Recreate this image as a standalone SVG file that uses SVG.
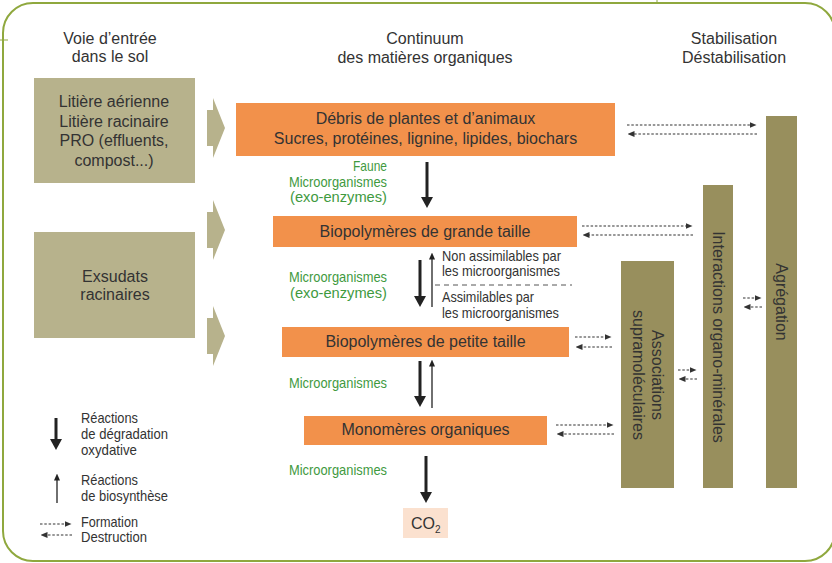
<svg xmlns="http://www.w3.org/2000/svg" width="832" height="563" viewBox="0 0 832 563">
<style>
.t{font-family:"Liberation Sans",Arial,sans-serif;font-size:16px;fill:#333;}
.c{text-anchor:middle;}
.g{font-family:"Liberation Sans",Arial,sans-serif;font-size:14.5px;fill:#3f9a3f;}
.s{font-family:"Liberation Sans",Arial,sans-serif;font-size:14.5px;fill:#333;}
.l{font-family:"Liberation Sans",Arial,sans-serif;font-size:14.5px;fill:#333;}
.tan{fill:#b7b28c;}
.or{fill:#f2914b;}
.bar{fill:#988f5d;}
.thick{stroke:#222;stroke-width:3;fill:none;marker-end:url(#ah);}
.thin{stroke:#222;stroke-width:1.3;fill:none;marker-end:url(#at);}
.dash{stroke:#333;stroke-width:1.2;stroke-dasharray:2.5,1.8;fill:none;marker-end:url(#dh);}
</style>
<defs>
<marker id="ah" markerUnits="userSpaceOnUse" markerWidth="11" markerHeight="12" viewBox="0 0 11 12" refX="1" refY="6" orient="auto"><path d="M0,0 L11,6 L0,12 z" fill="#222"/></marker>
<marker id="at" markerUnits="userSpaceOnUse" markerWidth="7" markerHeight="6" viewBox="0 0 7 6" refX="0.5" refY="3" orient="auto"><path d="M0,0 L7,3 L0,6 z" fill="#222"/></marker>
<marker id="dh" markerUnits="userSpaceOnUse" markerWidth="7" markerHeight="6" viewBox="0 0 7 6" refX="0.5" refY="3" orient="auto"><path d="M0,0 L7,3 L0,6 z" fill="#333"/></marker>
<path id="bigarrow" d="M0,-18 L6,-18 L6,-30 L18,0 L6,30 L6,18 L0,18 Z"/>
</defs>

<g id="frame">
<rect x="3" y="3" width="832" height="558" rx="30" ry="30" fill="none" stroke="#8fa83e" stroke-width="2"/>
<line x1="0" y1="40" x2="8" y2="40" stroke="#8fa83e" stroke-width="1"/>
<line x1="657" y1="0" x2="657" y2="3" stroke="#8fa83e" stroke-width="1"/>
</g>

<g id="headers">
<text class="t c" x="110" y="44">Voie d’entrée</text>
<text class="t c" x="110" y="62">dans le sol</text>
<text class="t c" x="425" y="44">Continuum</text>
<text class="t c" x="425" y="63">des matières organiques</text>
<text class="t c" x="734" y="44">Stabilisation</text>
<text class="t c" x="734" y="63">Déstabilisation</text>
</g>

<g id="litiere">
<rect class="tan" x="34" y="78" width="161" height="105"/>
<text class="t c" x="114" y="107">Litière aérienne</text>
<text class="t c" x="114" y="127">Litière racinaire</text>
<text class="t c" x="114" y="146">PRO (effluents,</text>
<text class="t c" x="114" y="166">compost...)</text>
</g>
<g id="exsudats">
<rect class="tan" x="34" y="232" width="161" height="106"/>
<text class="t c" x="115" y="282">Exsudats</text>
<text class="t c" x="115" y="300">racinaires</text>
</g>
<g id="entry-arrows">
<use href="#bigarrow" class="tan" x="207" y="128"/>
<use href="#bigarrow" class="tan" x="207" y="230"/>
<use href="#bigarrow" class="tan" x="207" y="336"/>
</g>

<g id="debris">
<rect class="or" x="236" y="103" width="379" height="53"/>
<text class="t c" x="425.5" y="124">Débris de plantes et d’animaux</text>
<text class="t c" x="425.5" y="144">Sucres, protéines, lignine, lipides, biochars</text>
</g>
<g id="grande">
<rect class="or" x="273" y="216" width="304" height="31"/>
<text class="t c" x="425" y="237">Biopolymères de grande taille</text>
</g>
<g id="petite">
<rect class="or" x="282" y="327" width="287" height="30"/>
<text class="t c" x="425.5" y="347">Biopolymères de petite taille</text>
</g>
<g id="monomeres">
<rect class="or" x="304" y="416" width="243" height="29"/>
<text class="t c" x="425.5" y="435">Monomères organiques</text>
</g>
<g id="co2">
<rect x="403" y="508" width="45" height="30" fill="#fbe1cf"/>
<text class="t" x="411" y="529">CO<tspan font-size="10" dy="4">2</tspan></text>
</g>

<g id="bar-associations">
<rect class="bar" x="621" y="261" width="53" height="227"/>
<text class="t c" transform="translate(657,375) rotate(90)" x="0" y="5">Associations</text>
<text class="t c" transform="translate(638,375) rotate(90)" x="0" y="5">supramoléculaires</text>
</g>
<g id="bar-interactions">
<rect class="bar" x="703" y="185" width="30" height="303"/>
<text class="t c" transform="translate(718,337) rotate(90)" x="0" y="5">Interactions organo-minérales</text>
</g>
<g id="bar-agregation">
<rect class="bar" x="766" y="116" width="31" height="372"/>
<text class="t c" transform="translate(781,302) rotate(90)" x="0" y="5">Agrégation</text>
</g>

<g id="labels">
<text class="g" x="353" y="171" textLength="34" lengthAdjust="spacingAndGlyphs">Faune</text>
<text class="g" x="289" y="187" textLength="98" lengthAdjust="spacingAndGlyphs">Microorganismes</text>
<text class="g" x="290" y="202" textLength="97" lengthAdjust="spacingAndGlyphs">(exo-enzymes)</text>
<text class="g" x="289" y="282" textLength="98" lengthAdjust="spacingAndGlyphs">Microorganismes</text>
<text class="g" x="290" y="298" textLength="97" lengthAdjust="spacingAndGlyphs">(exo-enzymes)</text>
<text class="g" x="289" y="388" textLength="98" lengthAdjust="spacingAndGlyphs">Microorganismes</text>
<text class="g" x="289" y="475" textLength="98" lengthAdjust="spacingAndGlyphs">Microorganismes</text>
<text class="s" x="442" y="261" textLength="119" lengthAdjust="spacingAndGlyphs">Non assimilables par</text>
<text class="s" x="442" y="276" textLength="118" lengthAdjust="spacingAndGlyphs">les microorganismes</text>
<text class="s" x="442" y="302" textLength="92" lengthAdjust="spacingAndGlyphs">Assimilables par</text>
<text class="s" x="442" y="318" textLength="117" lengthAdjust="spacingAndGlyphs">les microorganismes</text>
</g>

<g id="connectors">
<line class="thick" x1="427" y1="162" x2="427" y2="198"/>
<line class="thick" x1="420" y1="260" x2="420" y2="297"/>
<line class="thin" x1="432" y1="307" x2="432" y2="259"/>
<line class="thick" x1="420" y1="361" x2="420" y2="397"/>
<line class="thin" x1="432" y1="408" x2="432" y2="366"/>
<line class="thick" x1="426" y1="456" x2="426" y2="493"/>
<line x1="435" y1="285" x2="572" y2="285" stroke="#555" stroke-width="1" stroke-dasharray="5,4"/>

<line class="dash" x1="627" y1="125" x2="750" y2="125"/>
<line class="dash" x1="757" y1="134" x2="634" y2="134"/>
<line class="dash" x1="582" y1="226" x2="686" y2="226"/>
<line class="dash" x1="693" y1="235" x2="589" y2="235"/>
<line class="dash" x1="575" y1="337" x2="605" y2="337"/>
<line class="dash" x1="612" y1="347" x2="582" y2="347"/>
<line class="dash" x1="556" y1="425" x2="607" y2="425"/>
<line class="dash" x1="614" y1="434" x2="563" y2="434"/>
<line class="dash" x1="678" y1="370" x2="690" y2="370"/>
<line class="dash" x1="697" y1="379" x2="685" y2="379"/>
<line class="dash" x1="743" y1="298" x2="755" y2="298"/>
<line class="dash" x1="762" y1="307" x2="750" y2="307"/>
</g>

<g id="legend">
<line class="thick" x1="56" y1="418" x2="56" y2="440"/>
<text class="l" x="81" y="423" textLength="57" lengthAdjust="spacingAndGlyphs">Réactions</text>
<text class="l" x="81" y="439" textLength="87" lengthAdjust="spacingAndGlyphs">de dégradation</text>
<text class="l" x="81" y="455" textLength="56" lengthAdjust="spacingAndGlyphs">oxydative</text>
<line class="thin" x1="57" y1="503" x2="57" y2="480"/>
<text class="l" x="81" y="485" textLength="57" lengthAdjust="spacingAndGlyphs">Réactions</text>
<text class="l" x="81" y="501" textLength="87" lengthAdjust="spacingAndGlyphs">de biosynthèse</text>
<line class="dash" x1="40" y1="524" x2="65" y2="524"/>
<line class="dash" x1="72" y1="535" x2="47" y2="535"/>
<text class="l" x="81" y="527" textLength="57" lengthAdjust="spacingAndGlyphs">Formation</text>
<text class="l" x="81" y="542" textLength="66" lengthAdjust="spacingAndGlyphs">Destruction</text>
</g>
</svg>
